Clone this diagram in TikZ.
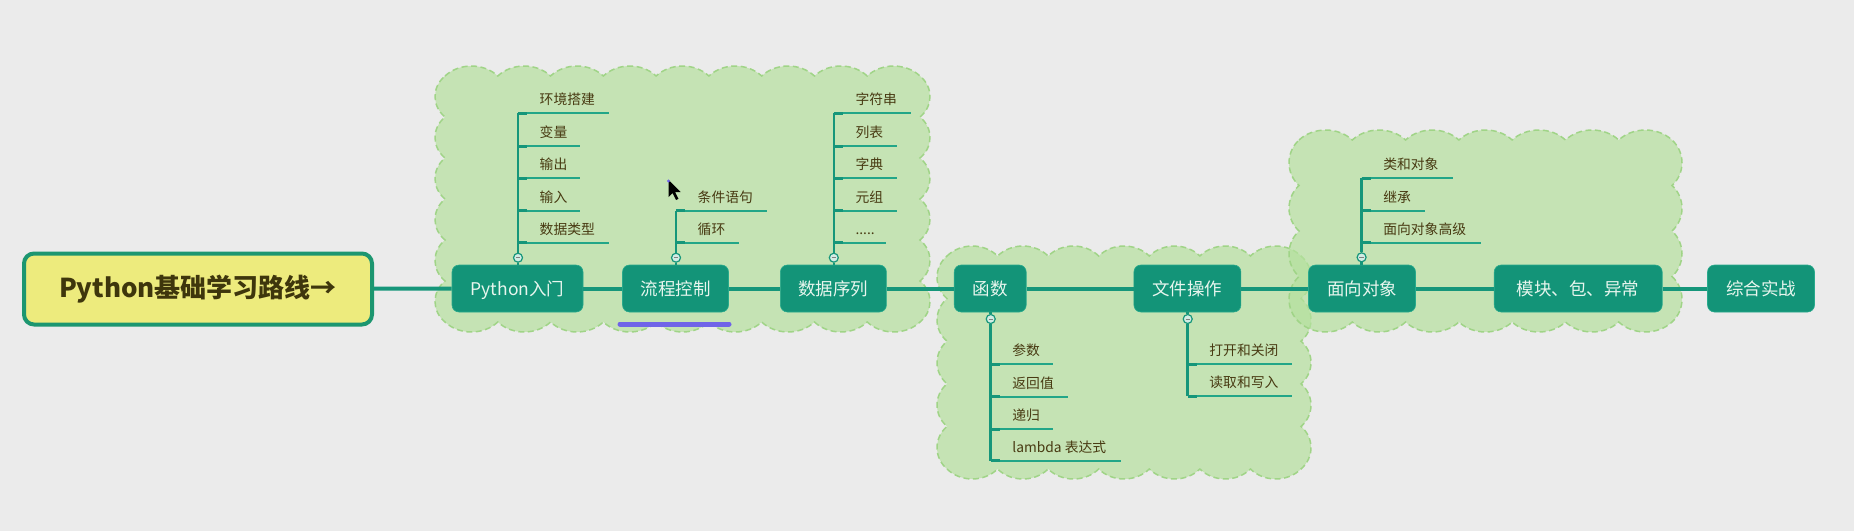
\documentclass[tikz,border=0pt]{standalone}
\usepackage{fontspec}
\setmainfont{Noto Sans CJK SC}
\definecolor{bgc}{RGB}{235,235,235}
\definecolor{cloudf}{RGB}{181,225,158}
\definecolor{cloudd}{RGB}{160,212,135}
\definecolor{topicf}{RGB}{19,148,120}
\definecolor{topicd}{RGB}{40,170,140}
\definecolor{linec}{RGB}{22,150,122}
\definecolor{twigc}{RGB}{34,166,136}
\definecolor{leaft}{RGB}{72,58,18}
\definecolor{mainf}{RGB}{237,235,125}
\definecolor{maind}{RGB}{28,150,112}
\definecolor{maint}{RGB}{62,54,12}
\definecolor{topict}{RGB}{232,246,238}
\definecolor{penc}{RGB}{112,100,232}
\definecolor{collf}{RGB}{210,236,228}
\newcommand\fivedots{.....}
\tikzset{
 cloudsty/.style={fill=cloudf, fill opacity=0.7, draw=cloudd, draw opacity=1, line width=1.5pt, dash pattern=on 6pt off 3.5pt},
 topic/.style={fill=topicf, draw=topicd, line width=0.6pt, rounded corners=7pt, minimum height=47pt, inner sep=0pt, text=topict, font=\fontsize{17.5}{20}\selectfont, text height=14.9pt, text depth=1.6pt},
 mainbox/.style={fill=mainf, draw=maind, line width=4pt, rounded corners=10pt, minimum width=348pt, minimum height=71pt, inner sep=0pt, text=maint, font=\fontsize{26}{30}\selectfont\bfseries},
 mainline/.style={draw=linec, line width=4pt},
 branchv/.style={draw=linec, line width=2.6pt},
 twig/.style={draw=twigc, line width=1.8pt},
 stub/.style={draw=linec, line width=3pt},
 leaf/.style={anchor=base west, inner sep=0pt, text=leaft, font=\fontsize{13.8}{16}\selectfont},
 collapse/.style={circle, minimum size=9pt, inner sep=0pt, fill=collf, draw=linec, line width=1.2pt,
   path picture={\draw[line width=0.8pt, gray] ([xshift=-2.2pt]path picture bounding box.center) -- ([xshift=2.2pt]path picture bounding box.center);}},
}
\newcommand\mycloud[6]{%
 \pgfmathsetmacro\cdx{(#3-#1)/#5}%
 \pgfmathsetmacro\cdy{(#4-#2)/#6}%
 \path[cloudsty] (#1,#2)
  \foreach \i in {1,...,#5}{ .. controls +(0.27*\cdx,-13.3) and +(-0.27*\cdx,-13.3) .. (#1+\i*\cdx,#2) }
  \foreach \i in {1,...,#6}{ .. controls +(13.3,0.27*\cdy) and +(13.3,-0.27*\cdy) .. (#3,#2+\i*\cdy) }
  \foreach \i in {1,...,#5}{ .. controls +(-0.27*\cdx,13.3) and +(0.27*\cdx,13.3) .. (#3-\i*\cdx,#4) }
  \foreach \i in {1,...,#6}{ .. controls +(-13.3,-0.27*\cdy) and +(-13.3,0.27*\cdy) .. (#1,#4-\i*\cdy) }
  -- cycle;
}
\newcommand\myleaves[3]{%
 \foreach \ly/\lx/\lt [count=\k] in {#3} {
   \coordinate (#1s\k) at (#2,\ly);
   \coordinate (#1e\k) at (\lx,\ly);
   \draw[twig] (#1s\k) -- (#1e\k);
   \draw[stub] (#1s\k) -- ++(9,0);
   \node[leaf] (#1t\k) at ({#2+21.5},{\ly-8.5}) {\lt};
 }
}
\begin{document}
\begin{tikzpicture}[x=1pt,y=-1pt]
\useasboundingbox (0,0) rectangle (1854,531);
\fill[bgc] (0,0) rectangle (1854,531);
% clouds
\mycloud{445}{76}{920}{322}{9}{6}
\mycloud{947}{256}{1301}{469}{7}{5}
\mycloud{1299}{140}{1672}{322}{7}{4}
% nodes
\node[mainbox] (main) at (198,289) {Python基础学习路线→};
\node[topic, minimum width=131pt] (py) at (517.5,288.5) {Python入门};
\node[topic, minimum width=106pt] (lc) at (675.5,288.5) {流程控制};
\node[topic, minimum width=106pt] (sj) at (833.4,288.5) {数据序列};
\node[topic, minimum width=72pt] (hs) at (990.2,288.5) {函数};
\node[topic, minimum width=107pt] (wj) at (1187.4,288.5) {文件操作};
\node[topic, minimum width=107pt] (mx) at (1362,288.5) {面向对象};
\node[topic, minimum width=168pt] (mk) at (1578.2,288.5) {模块、包、异常};
\node[topic, minimum width=107pt] (zh) at (1761,288.5) {综合实战};
% main connectors
\draw[mainline] (main) -- (py);
\draw[mainline] (py) -- (lc);
\draw[mainline] (lc) -- (sj);
\draw[mainline] (sj) -- (hs);
\draw[mainline] (hs) -- (wj);
\draw[mainline] (wj) -- (mx);
\draw[mainline] (mx) -- (mk);
\draw[mainline] (mk) -- (zh);
% Python入门 branch
\node[collapse] (pyc) at (518,257.7) {};
\draw[branchv] (py.north -| pyc) -- (pyc.south);
\myleaves{py}{518}{113.3/609/环境搭建, 146/580/变量, 178.3/580/输出, 210.7/580/输入, 242.7/609/数据类型}
\draw[branchv] (pyc.north) -- (pys1);
% 流程控制 branch
\node[collapse] (lcc) at (676,257.7) {};
\draw[branchv] (lc.north -| lcc) -- (lcc.south);
\myleaves{lc}{676}{210.7/766.5/条件语句, 242.7/738.7/循环}
\draw[branchv] (lcc.north) -- (lcs1);
% 数据序列 branch
\node[collapse] (sjc) at (833.8,257.7) {};
\draw[branchv] (sj.north -| sjc) -- (sjc.south);
\myleaves{sj}{833.8}{113.3/910.5/字符串, 146/896.6/列表, 178.3/896.6/字典, 210.7/896.6/元组, 242.7/886.4/\fivedots}
\draw[branchv] (sjc.north) -- (sjs1);
% 函数 branch
\node[collapse] (hsc) at (990.7,319) {};
\draw[branchv] (hs.south -| hsc) -- (hsc.north);
\myleaves{hs}{990.7}{364.3/1053.3/参数, 396.7/1067.7/返回值, 429/1053.3/递归, 460.7/1120.7/lambda 表达式}
\draw[branchv] (hsc.south) -- (hss4);
% 文件操作 branch
\node[collapse] (wjc) at (1187.7,319) {};
\draw[branchv] (wj.south -| wjc) -- (wjc.north);
\myleaves{wj}{1187.7}{364.3/1292.3/打开和关闭, 396/1292.3/读取和写入}
\draw[branchv] (wjc.south) -- (wjs2);
% 面向对象 branch
\node[collapse] (mxc) at (1361.6,257.3) {};
\draw[branchv] (mx.north -| mxc) -- (mxc.south);
\myleaves{mx}{1361.6}{178.3/1452.8/类和对象, 210.7/1424.6/继承, 242.7/1480.6/面向对象高级}
\draw[branchv] (mxc.north) -- (mxs1);
% pen underline and cursor
\draw[penc, line width=5pt, line cap=round] (620,324) -- (729,324);
\fill[black] (668.5,180) -- ++(0,17) -- ++(4,-4) -- ++(3.5,7) -- ++(2.5,-1.2) -- ++(-3.5,-6.8) -- ++(5.5,0) -- cycle;
\fill[penc] (668.5,181) circle (1.6);
\end{tikzpicture}
\end{document}
